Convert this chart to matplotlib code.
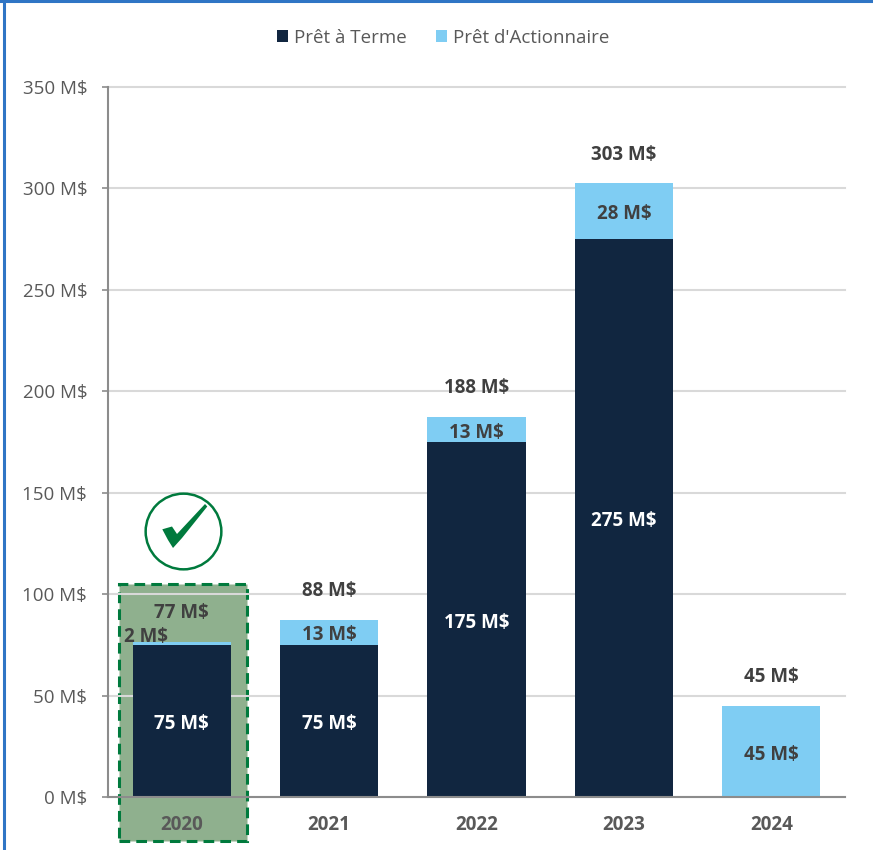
import matplotlib.pyplot as plt
from matplotlib.patches import Rectangle, Polygon

plt.rcParams['font.family'] = ['Open Sans', 'DejaVu Sans']

years = ['2020', '2021', '2022', '2023', '2024']
terme = [75, 75, 175, 275, 0]
actionnaire = [1.5, 12.5, 12.5, 27.5, 45]
terme_labels = ['75 M$', '75 M$', '175 M$', '275 M$', '']
action_labels = ['2 M$', '13 M$', '13 M$', '28 M$', '45 M$']
total_labels = ['77 M$', '88 M$', '188 M$', '303 M$', '45 M$']
yticks = [0, 50, 100, 150, 200, 250, 300, 350]

navy = '#112640'
light = '#7fcdf3'
grey = '#595959'
green = '#007a3d'

W, H = 873, 850
fig = plt.figure(figsize=(W / 100, H / 100), dpi=100)
ax = fig.add_axes([108 / W, 1 - 797 / H, 737 / W, 710 / H])
x = list(range(len(years)))

# encadre vert autour de 2020
ax.add_patch(Rectangle((-0.425, -21.7), 0.868, 126.7, facecolor='#8fb08e', edgecolor=green,
                       linewidth=2.2, linestyle=(0, (3.5, 2)), clip_on=False, zorder=1))

ax.bar(x, terme, width=0.665, color=navy, zorder=3, label='Prêt à Terme')
ax.bar(x, actionnaire, width=0.665, bottom=terme, color=light, zorder=3, label="Prêt d'Actionnaire")

ax.set_xlim(-0.5, 4.5)
ax.set_ylim(0, 350)
ax.set_yticks(yticks)
ax.set_yticklabels([f'{v} M$' for v in yticks], fontsize=13.5, color=grey)
ax.set_xticks(x)
ax.set_xticklabels(years, fontsize=13.5, fontweight='bold', color=grey)
ax.tick_params(axis='y', length=4.5, width=1.2, color='#8c8c8c', pad=10.5)
ax.tick_params(axis='x', length=0, pad=13)
ax.grid(axis='y', color='#d9d9d9', linewidth=1.5, zorder=2, clip_on=False)
ax.set_axisbelow(False)
for side in ['top', 'right']:
    ax.spines[side].set_visible(False)
for side in ['left', 'bottom']:
    ax.spines[side].set_color('#8c8c8c')
    ax.spines[side].set_linewidth(1.5)
    ax.spines[side].set_zorder(4)

# etiquettes
lab = dict(ha='center', va='center', fontsize=13.5, fontweight='bold', zorder=5)
for i in x:
    if terme[i] > 0:
        ax.text(i, terme[i] / 2 - 1.6, terme_labels[i], color='white', **lab)
    top = terme[i] + actionnaire[i]
    if i == 0:
        ax.text(i - 0.245, 78.7, action_labels[i], color='#404040', **lab)
    else:
        ax.text(i, terme[i] + actionnaire[i] / 2 - 1.6, action_labels[i], color='#404040', **lab)
    ax.text(i, top + 14.1, total_labels[i], color='#404040', **lab)

# crochet
ax.plot([0.01], [131], marker='o', markersize=54.5, markerfacecolor='white', markeredgecolor=green,
        markeredgewidth=1.8, clip_on=False, zorder=5)
check_px = [(162.3, 529.3), (172, 526.5), (177, 534), (205, 504), (207.3, 506.5),
            (182, 538), (173, 548), (168, 540)]
fig.add_artist(Polygon([(a / W, 1 - b / H) for a, b in check_px], closed=True, facecolor=green,
                       edgecolor='none', transform=fig.transFigure, zorder=6))

ax.legend(loc='center', bbox_to_anchor=(443 / W, 1 - 38 / H), bbox_transform=fig.transFigure, ncol=2,
          frameon=False, fontsize=13.5, labelcolor=grey, handlelength=0.6, handleheight=0.6,
          handletextpad=0.3, columnspacing=1.55)

# cadre bleu
fig.add_artist(plt.Line2D([4 / W, 4 / W], [0, 1], color='#2f75c5', linewidth=2.2))
fig.add_artist(plt.Line2D([0, 1], [1 - 1 / H, 1 - 1 / H], color='#2f75c5', linewidth=2.2))

plt.savefig('out.png', dpi=100)
